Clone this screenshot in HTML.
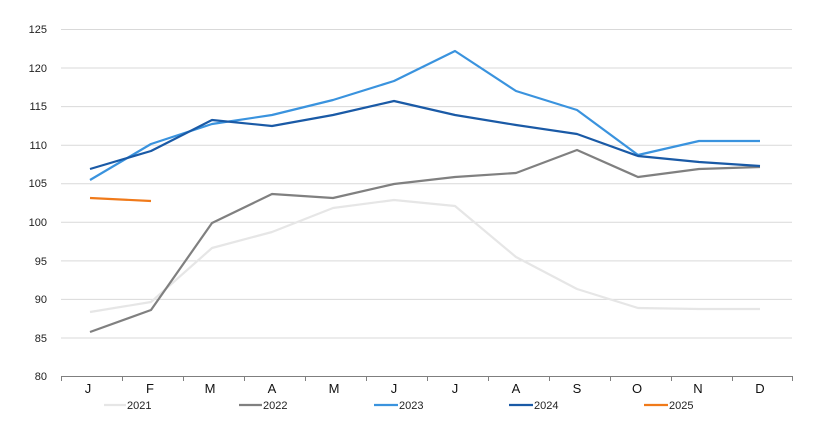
<!DOCTYPE html>
<html><head><meta charset="utf-8"><style>body{margin:0;background:#fff}svg{display:block;font-family:"Liberation Sans",sans-serif}</style></head><body>
<svg width="820" height="428" viewBox="0 0 820 428">
<g stroke="#d9d9d9" stroke-width="1">
<line x1="61" x2="792" y1="29.5" y2="29.5"/><line x1="61" x2="792" y1="68" y2="68"/><line x1="61" x2="792" y1="106.6" y2="106.6"/><line x1="61" x2="792" y1="145.2" y2="145.2"/><line x1="61" x2="792" y1="183.7" y2="183.7"/><line x1="61" x2="792" y1="222.3" y2="222.3"/><line x1="61" x2="792" y1="260.9" y2="260.9"/><line x1="61" x2="792" y1="299.4" y2="299.4"/><line x1="61" x2="792" y1="338" y2="338"/>
</g>
<line x1="61" x2="792" y1="376.5" y2="376.5" stroke="#7f7f7f" stroke-width="1"/>
<g stroke="#7f7f7f"><line x1="61.5" x2="61.5" y1="376" y2="381"/><line x1="122.5" x2="122.5" y1="376" y2="381"/><line x1="183.5" x2="183.5" y1="376" y2="381"/><line x1="244.5" x2="244.5" y1="376" y2="381"/><line x1="305.5" x2="305.5" y1="376" y2="381"/><line x1="366.5" x2="366.5" y1="376" y2="381"/><line x1="427.5" x2="427.5" y1="376" y2="381"/><line x1="488.5" x2="488.5" y1="376" y2="381"/><line x1="549.5" x2="549.5" y1="376" y2="381"/><line x1="610.5" x2="610.5" y1="376" y2="381"/><line x1="671.5" x2="671.5" y1="376" y2="381"/><line x1="732.5" x2="732.5" y1="376" y2="381"/><line x1="792.5" x2="792.5" y1="376" y2="381"/></g>
<g font-size="11" fill="#222" text-anchor="end">
<text x="47" y="33">125</text><text x="47" y="72">120</text><text x="47" y="110">115</text><text x="47" y="149">110</text><text x="47" y="187">105</text><text x="47" y="226">100</text><text x="47" y="265">95</text><text x="47" y="303">90</text><text x="47" y="342">85</text><text x="47" y="380">80</text>
</g>
<g font-size="13" fill="#111" text-anchor="middle">
<text x="88" y="393">J</text><text x="150" y="393">F</text><text x="210" y="393">M</text><text x="272" y="393">A</text><text x="334" y="393">M</text><text x="394" y="393">J</text><text x="455" y="393">J</text><text x="516" y="393">A</text><text x="577" y="393">S</text><text x="637" y="393">O</text><text x="698" y="393">N</text><text x="760" y="393">D</text>
</g>
<g fill="none" stroke-width="2.2" stroke-linejoin="round">
<polyline stroke="#e6e6e6" points="90,312 151,302 212,248 272,232 333,208 394,200 455,206 516,257 577,289 638,308 699,309 760,309"/>
<polyline stroke="#808080" points="90,332 151,310 212,223 272,194 333,198 394,184 455,177 516,173 577,150 638,177 699,169 760,167"/>
<polyline stroke="#3a93de" points="90,180 151,144 212,124 272,115 333,100 394,81 455,51 516,91 577,110 638,155 699,141 760,141"/>
<polyline stroke="#1a5aa6" points="90,169 151,151 212,120 272,126 333,115 394,101 455,115 516,125 577,134 638,156 699,162 760,166"/>
<polyline stroke="#f07a1a" points="90,198 151,201"/>
</g>
<g font-size="11" fill="#222">
<line x1="104" x2="126" y1="405" y2="405" stroke="#e6e6e6" stroke-width="2.2"/><text x="127" y="409">2021</text>
<line x1="239" x2="262" y1="405" y2="405" stroke="#808080" stroke-width="2.2"/><text x="263" y="409">2022</text>
<line x1="374" x2="398" y1="405" y2="405" stroke="#3a93de" stroke-width="2.2"/><text x="399" y="409">2023</text>
<line x1="509" x2="533" y1="405" y2="405" stroke="#1a5aa6" stroke-width="2.2"/><text x="534" y="409">2024</text>
<line x1="644" x2="668" y1="405" y2="405" stroke="#f07a1a" stroke-width="2.2"/><text x="669" y="409">2025</text>
</g>
</svg>
</body></html>
